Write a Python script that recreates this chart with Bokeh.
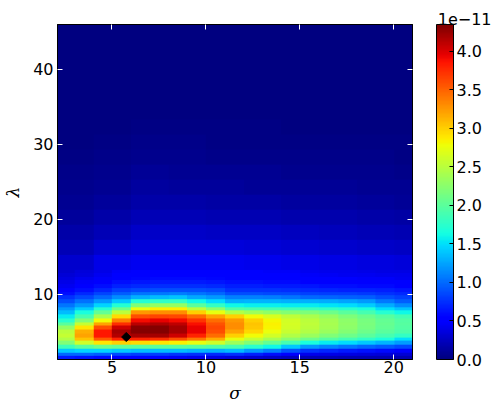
import numpy as np
from bokeh.plotting import figure
from bokeh.models import (LinearColorMapper, ColorBar, FixedTicker, LinearAxis,
                          Range1d, PrintfTickFormatter, SingleIntervalTicker, Title)
from bokeh.embed import file_html
from bokeh.resources import INLINE

# ---------------- data (values in units of 1e-11) ----------------
# lower band: columns at sigma = 2.5 ... 20.5 (step 1), rows at lambda = 1.5 ... 13.0 (step 0.5)
band_sigma = [2.5, 3.5, 4.5, 5.5, 6.5, 7.5, 8.5, 9.5, 10.5, 11.5, 12.5, 13.5,
              14.5, 15.5, 16.5, 17.5, 18.5, 19.5, 20.5]
band_lambda = [1.5, 2.0, 2.5, 3.0, 3.5, 4.0, 4.5, 5.0, 5.5, 6.0, 6.5, 7.0,
               7.5, 8.0, 8.5, 9.0, 9.5, 10.0, 10.5, 11.0, 11.5, 12.0, 12.5, 13.0]

b2_5 = [0.65, 1.0, 1.4, 1.85, 2.2, 2.45, 2.55, 2.5, 2.3, 2.0, 1.75, 1.55, 1.35, 1.2, 1.05, 0.88, 0.75, 0.6, 0.5, 0.44, 0.4, 0.36, 0.33, 0.3]
b3_5 = [0.62, 1.0, 1.45, 2.0, 2.6, 3.05, 3.2, 3.15, 2.9, 2.55, 2.2, 1.9, 1.65, 1.42, 1.2, 1.02, 0.86, 0.72, 0.61, 0.52, 0.46, 0.41, 0.37, 0.34]
b4_5 = [0.58, 0.95, 1.45, 2.1, 2.9, 3.55, 3.85, 3.85, 3.6, 3.2, 2.8, 2.4, 2.05, 1.72, 1.45, 1.2, 1.0, 0.84, 0.7, 0.6, 0.52, 0.47, 0.43, 0.4]
b5_5 = [0.55, 0.85, 1.4, 2.05, 3.0, 3.8, 4.15, 4.2, 4.05, 3.75, 3.35, 2.95, 2.5, 2.1, 1.7, 1.4, 1.15, 0.95, 0.8, 0.68, 0.6, 0.54, 0.5, 0.46]
b6_5 = [0.5, 0.8, 1.35, 2.0, 2.95, 3.8, 4.2, 4.33, 4.3, 4.12, 3.9, 3.6, 3.25, 2.75, 2.2, 1.7, 1.3, 1.05, 0.86, 0.73, 0.64, 0.57, 0.52, 0.49]
b7_5 = [0.48, 0.8, 1.35, 2.0, 2.9, 3.75, 4.2, 4.33, 4.32, 4.18, 3.95, 3.65, 3.3, 2.85, 2.3, 1.78, 1.35, 1.07, 0.87, 0.74, 0.65, 0.58, 0.53, 0.5]
b8_5 = [0.45, 0.78, 1.35, 2.0, 2.85, 3.6, 4.05, 4.2, 4.2, 4.1, 3.9, 3.62, 3.3, 2.85, 2.3, 1.8, 1.38, 1.08, 0.88, 0.74, 0.65, 0.58, 0.53, 0.5]
b9_5 = [0.42, 0.75, 1.32, 1.98, 2.75, 3.4, 3.8, 3.95, 3.95, 3.88, 3.72, 3.45, 3.0, 2.5, 2.0, 1.6, 1.27, 1.05, 0.87, 0.74, 0.65, 0.58, 0.53, 0.5]
b10_5 = [0.38, 0.72, 1.3, 1.95, 2.6, 3.15, 3.45, 3.6, 3.62, 3.58, 3.45, 3.2, 2.75, 2.25, 1.8, 1.48, 1.2, 1.0, 0.85, 0.73, 0.64, 0.57, 0.52, 0.49]
b11_5 = [0.35, 0.75, 1.35, 1.9, 2.35, 2.75, 3.0, 3.2, 3.3, 3.3, 3.25, 3.0, 2.45, 1.95, 1.6, 1.3, 1.1, 0.87, 0.76, 0.67, 0.6, 0.55, 0.51, 0.48]
b12_5 = [0.32, 0.68, 1.2, 1.75, 2.2, 2.55, 2.8, 2.96, 3.03, 3.05, 3.0, 2.8, 2.35, 1.92, 1.58, 1.32, 1.1, 0.87, 0.76, 0.67, 0.6, 0.55, 0.51, 0.48]
b13_5 = [0.28, 0.6, 1.08, 1.6, 2.05, 2.4, 2.62, 2.76, 2.83, 2.85, 2.82, 2.66, 2.28, 1.9, 1.57, 1.32, 1.08, 0.86, 0.75, 0.66, 0.59, 0.54, 0.5, 0.47]
b14_5 = [0.24, 0.5, 0.9, 1.4, 1.9, 2.25, 2.45, 2.58, 2.63, 2.65, 2.63, 2.52, 2.22, 1.88, 1.55, 1.3, 1.04, 0.85, 0.74, 0.65, 0.58, 0.53, 0.49, 0.46]
b15_5 = [0.22, 0.42, 0.75, 1.2, 1.65, 2.1, 2.33, 2.45, 2.5, 2.52, 2.5, 2.42, 2.18, 1.85, 1.55, 1.3, 1.0, 0.83, 0.72, 0.63, 0.56, 0.51, 0.47, 0.44]
b16_5 = [0.21, 0.4, 0.7, 1.12, 1.55, 1.98, 2.2, 2.33, 2.38, 2.4, 2.38, 2.3, 2.1, 1.8, 1.52, 1.28, 0.98, 0.81, 0.7, 0.61, 0.54, 0.49, 0.45, 0.42]
b17_5 = [0.2, 0.38, 0.66, 1.05, 1.48, 1.88, 2.1, 2.22, 2.27, 2.28, 2.26, 2.18, 2.0, 1.74, 1.48, 1.25, 0.96, 0.8, 0.69, 0.6, 0.53, 0.48, 0.44, 0.41]
b18_5 = [0.2, 0.36, 0.62, 0.98, 1.4, 1.78, 2.0, 2.1, 2.15, 2.17, 2.15, 2.08, 1.9, 1.68, 1.42, 1.2, 0.94, 0.79, 0.68, 0.59, 0.52, 0.47, 0.43, 0.4]
b19_5 = [0.2, 0.35, 0.58, 0.92, 1.32, 1.68, 1.9, 2.0, 2.05, 2.07, 2.05, 1.98, 1.72, 1.5, 1.28, 1.07, 0.88, 0.76, 0.67, 0.58, 0.51, 0.46, 0.42, 0.39]
b20_5 = [0.2, 0.33, 0.52, 0.85, 1.22, 1.5, 1.8, 1.93, 1.97, 1.98, 1.96, 1.88, 1.6, 1.38, 1.15, 0.95, 0.82, 0.72, 0.63, 0.55, 0.49, 0.44, 0.41, 0.38]

# upper region: columns at sigma = 3 ... 21 (step 2), rows at lambda = 14.25 ... 46.25 (step 2)
upper_sigma = [3.0, 5.0, 7.0, 9.0, 11.0, 13.0, 15.0, 17.0, 19.0, 21.0]
upper_lambda = [14.25, 16.25, 18.25, 20.25, 22.25, 24.25, 26.25, 28.25, 30.25,
                32.25, 34.25, 36.25, 38.25, 40.25, 42.25, 44.25, 46.25]

u3 = [0.3, 0.22, 0.16, 0.11, 0.08, 0.055, 0.04, 0.025, 0.015, 0.008, 0.004, 0, 0, 0, 0, 0, 0]
u5 = [0.4, 0.3, 0.22, 0.16, 0.11, 0.08, 0.055, 0.04, 0.025, 0.015, 0.01, 0.005, 0, 0, 0, 0, 0]
u7 = [0.44, 0.35, 0.28, 0.22, 0.16, 0.12, 0.085, 0.06, 0.04, 0.025, 0.015, 0.01, 0.005, 0, 0, 0, 0]
u9 = [0.44, 0.35, 0.28, 0.21, 0.16, 0.115, 0.08, 0.055, 0.035, 0.022, 0.013, 0.008, 0.004, 0, 0, 0, 0]
u11 = [0.43, 0.34, 0.27, 0.2, 0.15, 0.105, 0.075, 0.05, 0.032, 0.02, 0.012, 0.007, 0.003, 0, 0, 0, 0]
u13 = [0.42, 0.33, 0.26, 0.19, 0.14, 0.1, 0.07, 0.045, 0.03, 0.018, 0.01, 0.006, 0.003, 0, 0, 0, 0]
u15 = [0.4, 0.31, 0.24, 0.18, 0.13, 0.09, 0.06, 0.04, 0.026, 0.015, 0.009, 0.005, 0, 0, 0, 0, 0]
u17 = [0.38, 0.3, 0.23, 0.17, 0.12, 0.085, 0.058, 0.038, 0.024, 0.014, 0.008, 0.004, 0, 0, 0, 0, 0]
u19 = [0.36, 0.28, 0.21, 0.155, 0.11, 0.078, 0.053, 0.035, 0.022, 0.013, 0.007, 0.003, 0, 0, 0, 0, 0]
u21 = [0.34, 0.26, 0.19, 0.14, 0.1, 0.07, 0.048, 0.032, 0.02, 0.012, 0.006, 0.003, 0, 0, 0, 0, 0]

best_sigma = [5.76]
best_lambda = [4.3]

x_ticks = [5, 10, 15, 20]
y_ticks = [10, 20, 30, 40]
cbar_low, cbar_high = 0.0, 4.35
cbar_title = "1e\u221211"
x_label = "\u03c3"
y_label = "\u03bb"

# ---------------- build grids ----------------
band_grid = np.array([b2_5, b3_5, b4_5, b5_5, b6_5, b7_5, b8_5, b9_5, b10_5, b11_5,
                      b12_5, b13_5, b14_5, b15_5, b16_5, b17_5, b18_5, b19_5, b20_5],
                     dtype=float).T
upper_grid = np.array([u3, u5, u7, u9, u11, u13, u15, u17, u19, u21], dtype=float).T

bs = band_sigma[1] - band_sigma[0]
bl = band_lambda[1] - band_lambda[0]
us = upper_sigma[1] - upper_sigma[0]
ul = upper_lambda[1] - upper_lambda[0]

# jet colormap (matplotlib segment definition)
t = np.linspace(0, 1, 256)
r = np.interp(t, [0, 0.35, 0.66, 0.89, 1], [0, 0, 1, 1, 0.5])
g = np.interp(t, [0, 0.125, 0.375, 0.64, 0.91, 1], [0, 0, 1, 1, 0, 0])
b = np.interp(t, [0, 0.11, 0.34, 0.65, 1], [0.5, 1, 1, 0, 0])
jet = ["#%02x%02x%02x" % (int(round(rr * 255)), int(round(gg * 255)), int(round(bb * 255)))
       for rr, gg, bb in zip(r, g, b)]

mapper = LinearColorMapper(palette=jet, low=cbar_low, high=cbar_high)

FONT = "DejaVu Sans"

p = figure(output_backend="svg", toolbar_location=None,
           x_range=Range1d(2.1, 21.0), y_range=Range1d(1.3, 46.0),
           width=492, height=405,
           min_border_left=55, min_border_top=24, min_border_bottom=46, min_border_right=80,
           background_fill_color="#0000f2", border_fill_color="white")
p.grid.visible = False
p.outline_line_color = "black"
p.outline_line_width = 1

p.image(image=[upper_grid], x=upper_sigma[0] - us / 2, y=upper_lambda[0] - ul / 2,
        dw=us * len(upper_sigma), dh=ul * len(upper_lambda), color_mapper=mapper)
p.image(image=[band_grid], x=band_sigma[0] - bs / 2, y=band_lambda[0] - bl / 2,
        dw=bs * len(band_sigma), dh=bl * len(band_lambda), color_mapper=mapper)

p.scatter(best_sigma, best_lambda, marker="square", angle=np.pi / 4, size=6.5,
          fill_color="black", line_color="black")


def style_axis(ax, show_labels=True, standoff=4):
    ax.major_tick_in = 5
    ax.major_tick_out = 0
    ax.major_tick_line_color = "white"
    ax.minor_tick_line_color = None
    ax.axis_line_color = "black"
    ax.major_label_text_font = FONT
    if show_labels:
        ax.major_label_text_color = "black"
        ax.major_label_text_font_size = "16px"
        ax.major_label_standoff = standoff
    else:
        ax.major_label_text_color = None
        ax.major_label_text_font_size = "1px"
        ax.major_label_standoff = 0


p.xaxis.ticker = FixedTicker(ticks=x_ticks)
p.yaxis.ticker = FixedTicker(ticks=y_ticks)
style_axis(p.xaxis[0], standoff=1)
style_axis(p.yaxis[0], standoff=4)
p.xaxis.axis_label = x_label
p.yaxis.axis_label = y_label
for ax in (p.xaxis[0], p.yaxis[0]):
    ax.axis_label_text_font = "DejaVu Serif"
    ax.axis_label_text_font_style = "italic"
    ax.axis_label_text_font_size = "17px"
    ax.axis_label_text_color = "black"
p.xaxis.axis_label_standoff = 7
p.yaxis.axis_label_standoff = 7

top_ax = LinearAxis(ticker=FixedTicker(ticks=x_ticks))
style_axis(top_ax, show_labels=False)
p.add_layout(top_ax, "above")
right_ax = LinearAxis(ticker=FixedTicker(ticks=y_ticks))
style_axis(right_ax, show_labels=False)
p.add_layout(right_ax, "right")

cbar = ColorBar(color_mapper=mapper, width=17, height=335, location=(379, 0),
                margin=0, padding=0,
                ticker=SingleIntervalTicker(interval=0.5),
                formatter=PrintfTickFormatter(format="%.1f"),
                major_label_text_font=FONT, major_label_text_font_size="16px",
                major_label_text_color="black", label_standoff=3,
                major_tick_line_color="black", major_tick_in=4, major_tick_out=0,
                minor_tick_line_color=None,
                bar_line_color="black", border_line_color=None,
                background_fill_color=None)
p.add_layout(cbar)

# colour-bar exponent, shown above the bar
exp_title = Title(text=cbar_title, align="right", offset=-79, standoff=0,
                  text_font=FONT, text_font_size="16px", text_font_style="normal",
                  text_color="black")
p.add_layout(exp_title, "above")

open("out.html", "w").write(file_html(p, INLINE))
